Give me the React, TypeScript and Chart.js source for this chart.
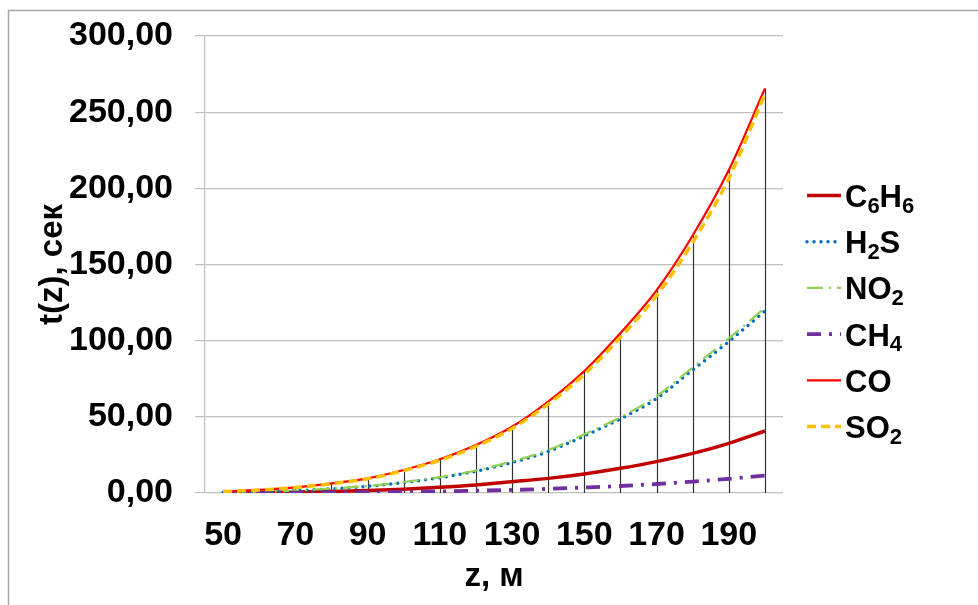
import React, { useEffect, useRef } from "react";
import { Chart, registerables } from "chart.js";

Chart.register(...registerables);

const zValues = [50, 60, 70, 80, 90, 100, 110, 120, 130, 140, 150, 160, 170, 180, 190, 200];
const seriesC6H6 = [0.16, 0.33, 0.6, 1.0, 1.6, 2.5, 3.7, 5.3, 7.4, 9.6, 12.5, 16.2, 20.6, 26.0, 32.6, 40.7];
const seriesH2S = [0.4, 0.8, 1.5, 2.7, 4.4, 6.9, 10.0, 14.3, 20.0, 27.2, 37.5, 48.7, 62.0, 80.8, 99.4, 119.5];
const seriesNO2 = [0.45, 0.85, 1.6, 2.9, 4.6, 7.2, 10.4, 14.8, 20.7, 28.2, 38.5, 49.8, 63.5, 82.5, 101.5, 121.5];
const seriesCH4 = [0.05, 0.1, 0.18, 0.3, 0.48, 0.73, 1.05, 1.5, 2.0, 2.7, 3.6, 4.6, 5.9, 7.5, 9.3, 11.4];
const seriesCO = [1.0, 2.0, 3.7, 6.3, 9.6, 15.1, 22.1, 31.5, 43.5, 60.0, 80.0, 105.0, 133.0, 169.0, 212.0, 265.5];
const seriesSO2 = [1.0, 1.9, 3.6, 6.1, 9.3, 14.7, 21.5, 30.6, 42.3, 58.4, 77.9, 102.2, 129.5, 164.5, 206.5, 262.0];

// legend names: [text, isSubscript] pairs
const legendNames: [string, boolean][][] = [
  [["C", false], ["6", true], ["H", false], ["6", true]],
  [["H", false], ["2", true], ["S", false]],
  [["NO", false], ["2", true]],
  [["CH", false], ["4", true]],
  [["CO", false]],
  [["SO", false], ["2", true]],
];

const yTitle = "t(z), сек";
const xTitle = "z, м";

const FONT = "'Liberation Sans', Arial, 'DejaVu Sans', sans-serif";

export default function App() {
  const ref = useRef<HTMLCanvasElement | null>(null);

  useEffect(() => {
    if (!ref.current) return;

    const styles = [
      { color: "#C00000", width: 3.5, dash: [] as number[], cap: "butt" },
      { color: "#0070C0", width: 3.5, dash: [0, 7], cap: "round" },
      { color: "#92D050", width: 2.2, dash: [16, 6, 2, 6], cap: "butt" },
      { color: "#7030A0", width: 3.8, dash: [14, 8, 3, 8], cap: "butt" },
      { color: "#FF0000", width: 2.2, dash: [] as number[], cap: "butt" },
      { color: "#FFC000", width: 3.5, dash: [9, 5], cap: "butt" },
    ];
    const data = [seriesC6H6, seriesH2S, seriesNO2, seriesCH4, seriesCO, seriesSO2];

    const bgPlugin = {
      id: "bgBorder",
      beforeDraw(chart: any) {
        const ctx = chart.ctx;
        ctx.save();
        ctx.fillStyle = "#ffffff";
        ctx.fillRect(0, 0, chart.width, chart.height);
        ctx.strokeStyle = "#a6a6a6";
        ctx.lineWidth = 1.5;
        ctx.beginPath();
        ctx.moveTo(8.5, chart.height);
        ctx.lineTo(8.5, 10.5);
        ctx.lineTo(chart.width, 10.5);
        ctx.stroke();
        ctx.restore();
      },
    };

    const dropLines = {
      id: "dropLines",
      beforeDatasetsDraw(chart: any) {
        const ctx = chart.ctx;
        const xs = chart.scales.x;
        const ys = chart.scales.y;
        ctx.save();
        ctx.strokeStyle = "#333333";
        ctx.lineWidth = 1.2;
        zValues.forEach((_, i) => {
          let mx = 0;
          data.forEach((d) => { if (d[i] > mx) mx = d[i]; });
          const x = Math.round(xs.getPixelForValue(i)) + 0.5;
          ctx.beginPath();
          ctx.moveTo(x, ys.getPixelForValue(0));
          ctx.lineTo(x, ys.getPixelForValue(mx));
          ctx.stroke();
        });
        ctx.restore();
      },
    };

    const legendPlugin = {
      id: "customLegend",
      afterDraw(chart: any) {
        const ctx = chart.ctx;
        ctx.save();
        const x0 = 807, x1 = 841, tx = 845;
        const y0 = 195.5, dy = 46.2;
        legendNames.forEach((parts, i) => {
          const st = styles[i];
          const ly = y0 + i * dy;
          ctx.strokeStyle = st.color;
          ctx.lineWidth = st.width;
          ctx.lineCap = st.cap as CanvasLineCap;
          ctx.setLineDash(st.dash);
          ctx.beginPath();
          ctx.moveTo(x0, ly);
          ctx.lineTo(x1, ly);
          ctx.stroke();
          ctx.setLineDash([]);
          let x = tx;
          const base = ly + 11.5;
          ctx.fillStyle = "#000000";
          ctx.textBaseline = "alphabetic";
          ctx.textAlign = "left";
          parts.forEach(([t, sub]) => {
            if (sub) {
              ctx.font = `bold 22px ${FONT}`;
              ctx.fillText(t, x, base + 5.5);
            } else {
              ctx.font = `bold 31px ${FONT}`;
              ctx.fillText(t, x, base);
            }
            x += ctx.measureText(t).width;
          });
        });
        ctx.restore();
      },
    };

    const chart = new Chart(ref.current, {
      type: "line",
      data: {
        labels: zValues.map(String),
        datasets: data.map((d, i) => ({
          label: ["C6H6", "H2S", "NO2", "CH4", "CO", "SO2"][i],
          data: d,
          borderColor: styles[i].color,
          backgroundColor: styles[i].color,
          borderWidth: styles[i].width,
          borderDash: styles[i].dash,
          borderCapStyle: styles[i].cap as any,
          pointRadius: 0,
          pointHoverRadius: 0,
          fill: false,
          cubicInterpolationMode: "monotone" as const,
          order: 6 - i,
        })),
      },
      options: {
        responsive: false,
        animation: false,
        maintainAspectRatio: false,
        layout: { padding: { top: 0, right: 195, left: 0, bottom: 0 } },
        plugins: {
          legend: { display: false },
          tooltip: { enabled: false },
        },
        scales: {
          x: {
            type: "category",
            offset: true,
            grid: { display: false, drawTicks: false },
            border: { display: false },
            ticks: {
              autoSkip: false,
              maxRotation: 0,
              minRotation: 0,
              padding: 22,
              color: "#000000",
              font: { family: FONT, size: 34, weight: "bold" },
              callback: (_v: any, idx: number) => (idx % 2 === 0 ? String(zValues[idx]) : ""),
            },
            title: {
              display: true,
              text: xTitle,
              color: "#000000",
              font: { family: FONT, size: 33, weight: "bold" },
              padding: { top: 0, bottom: 8 },
            },
            afterFit: (s: any) => { s.height = 112; },
          },
          y: {
            min: 0,
            max: 300,
            grid: { color: "#bfbfbf", lineWidth: 1.2, tickLength: 10, drawTicks: true },
            border: { display: true, color: "#bfbfbf", width: 1.2 },
            ticks: {
              stepSize: 50,
              padding: 22,
              color: "#000000",
              font: { family: FONT, size: 34, weight: "bold" },
              callback: (v: any) => Number(v).toFixed(2).replace(".", ","),
            },
            title: {
              display: true,
              text: yTitle,
              color: "#000000",
              font: { family: FONT, size: 33, weight: "bold" },
              padding: { top: 33, bottom: 0 },
            },
            afterFit: (s: any) => {
              s.width = 205;
              s.paddingTop = 36;
              s.paddingBottom = 0;
            },
          },
        },
      },
      plugins: [bgPlugin, dropLines, legendPlugin],
    });

    return () => chart.destroy();
  }, []);

  return (
    <canvas
      ref={ref}
      width={978}
      height={605}
      style={{ position: "fixed", left: 0, top: 0, width: 978, height: 605 }}
    />
  );
}
